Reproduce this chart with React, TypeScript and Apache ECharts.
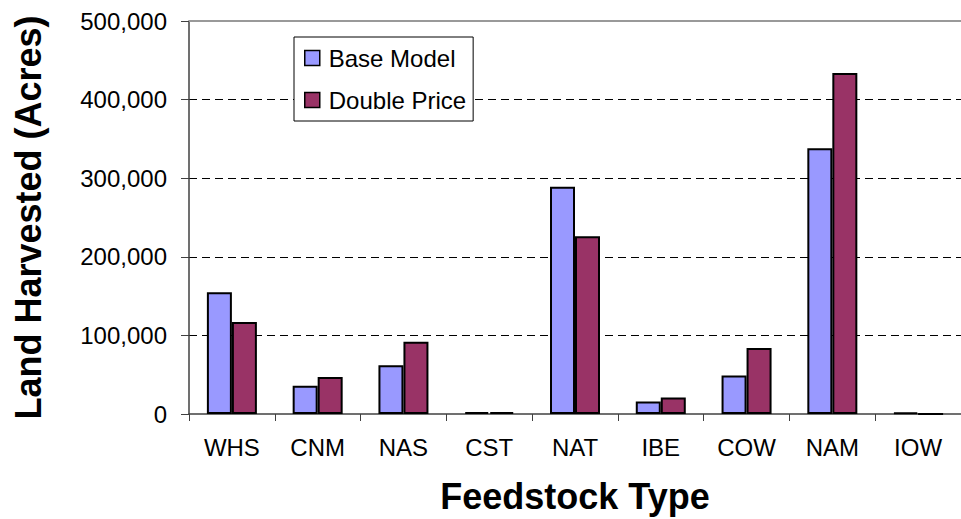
import React, { useEffect, useRef } from "react";
import * as echarts from "echarts";

const categories = ["WHS", "CNM", "NAS", "CST", "NAT", "IBE", "COW", "NAM", "IOW"];
const baseModel = [155000, 36000, 62000, 2500, 289000, 16000, 49000, 338000, 2000];
const doublePrice = [117000, 47000, 92000, 2500, 226000, 21000, 84000, 434000, 0];
const yTicks = [0, 100000, 200000, 300000, 400000, 500000];

const FONT = "'Liberation Sans', Arial, sans-serif";

export default function App() {
  const ref = useRef<HTMLDivElement>(null);
  useEffect(() => {
    if (!ref.current) return;
    const chart = echarts.init(ref.current, undefined, { renderer: "svg" });
    const axisColor = "#404040";
    chart.setOption({
      animation: false,
      backgroundColor: "#ffffff",
      grid: { left: 189, top: 21, right: -3, bottom: 103, containLabel: false },
      legend: {
        orient: "vertical",
        left: 294,
        top: 37,
        padding: [9, 7, 9, 10],
        itemGap: 18,
        itemWidth: 15,
        itemHeight: 15,
        borderColor: "#000",
        borderWidth: 1,
        backgroundColor: "#fff",
        icon: "rect",
        textStyle: { fontFamily: FONT, fontSize: 24, color: "#000", lineHeight: 24, padding: [0, 0, 0, 4] },
        data: [
          { name: "Base Model", itemStyle: { borderColor: "#000", borderWidth: 1.5 } },
          { name: "Double Price", itemStyle: { borderColor: "#000", borderWidth: 1.5 } },
        ],
      },
      xAxis: {
        type: "category",
        data: categories,
        name: "Feedstock Type",
        nameLocation: "middle",
        nameGap: 64,
        nameTextStyle: { fontFamily: FONT, fontSize: 36, fontWeight: "bold", color: "#000", lineHeight: 36 },
        axisLine: { lineStyle: { color: axisColor, width: 1.5 } },
        axisTick: { show: true, length: 7, lineStyle: { color: axisColor, width: 1 } },
        axisLabel: { fontFamily: FONT, fontSize: 24, color: "#000", margin: 21 },
      },
      yAxis: {
        type: "value",
        min: 0,
        max: yTicks[yTicks.length - 1],
        interval: yTicks[1] - yTicks[0],
        name: "Land Harvested (Acres)",
        nameLocation: "middle",
        nameGap: 143,
        nameTextStyle: { fontFamily: FONT, fontSize: 36, fontWeight: "bold", color: "#000", lineHeight: 36 },
        axisLine: { show: true, lineStyle: { color: axisColor, width: 1.5 } },
        axisTick: { show: true, length: 8, lineStyle: { color: axisColor, width: 1 } },
        axisLabel: {
          fontFamily: FONT,
          fontSize: 24,
          color: "#000",
          margin: 22,
          formatter: (v: number) => v.toLocaleString("en-US"),
        },
        splitLine: {
          show: true,
          showMinLine: false,
          showMaxLine: false,
          lineStyle: { color: "#000", width: 1, type: [8, 5] },
        },
      },
      series: [
        {
          name: "Base Model",
          type: "bar",
          data: baseModel,
          barWidth: 25,
          barGap: "0%",
          itemStyle: { color: "#9999FF", borderColor: "#000", borderWidth: 2 },
          markLine: {
            silent: true,
            symbol: "none",
            label: { show: false },
            lineStyle: { color: "#999", type: "solid", width: 2 },
            data: [{ yAxis: yTicks[yTicks.length - 1] }],
          },
        },
        {
          name: "Double Price",
          type: "bar",
          data: doublePrice,
          barWidth: 25,
          barGap: "0%",
          itemStyle: { color: "#993366", borderColor: "#000", borderWidth: 2 },
        },
      ],
    });
    return () => chart.dispose();
  }, []);
  return (
    <div
      ref={ref}
      style={{ position: "absolute", left: 0, top: 0, width: 961, height: 519 }}
    />
  );
}
